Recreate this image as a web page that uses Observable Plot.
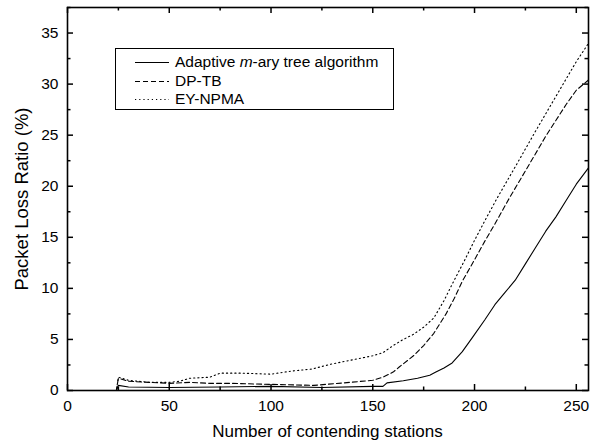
<!DOCTYPE html>
<html><head><meta charset="utf-8">
<script src="https://cdn.jsdelivr.net/npm/d3@7"></script>
<script src="https://cdn.jsdelivr.net/npm/@observablehq/plot@0.6"></script>
<style>
body{margin:0;background:#fff}
#chart{position:relative;width:600px;height:445px;font-family:"Liberation Sans",Arial,sans-serif;color:#000}
.title{position:absolute;font-size:17px;white-space:nowrap}
#legend{position:absolute;left:115px;top:48px;width:277px;height:60px;border:1px solid #000;background:#fff;font-size:15.5px}
#legend .row{position:absolute;left:0;height:18px;line-height:18px}
#legend svg{position:absolute;left:19px;top:0}
#legend span{position:absolute;left:59px;white-space:nowrap}
</style>
</head><body><div id="chart"></div>
<script>
// ---- data ----
const seriesNames = ["Adaptive m-ary tree algorithm", "DP-TB", "EY-NPMA"];
const adaptiveX = [0, 24, 25, 30, 50, 75, 100, 125, 150, 155, 157, 165, 172, 178, 181, 185, 189, 194, 199, 205, 210, 215, 220, 225, 230, 235, 240, 245, 250, 256];
const adaptiveY = [0, 0, 0.5, 0.35, 0.3, 0.35, 0.4, 0.3, 0.4, 0.4, 0.75, 0.95, 1.2, 1.5, 1.8, 2.2, 2.7, 3.8, 5.2, 6.9, 8.4, 9.6, 10.8, 12.4, 14.0, 15.6, 17.0, 18.6, 20.2, 21.8];
const dptbX = [0, 24, 25, 30, 40, 50, 60, 70, 80, 100, 121, 139, 150, 155, 160, 163, 170, 175, 180, 186, 190, 194, 200, 205, 210, 217, 225, 235, 245, 250, 256];
const dptbY = [0, 0, 1.2, 0.9, 0.8, 0.7, 0.8, 0.7, 0.7, 0.6, 0.5, 0.8, 1.0, 1.3, 1.8, 2.3, 3.4, 4.4, 5.6, 7.5, 9.0, 10.7, 12.8, 14.6, 16.3, 18.8, 21.5, 24.9, 28.0, 29.4, 30.4];
const eyX = [0, 24, 25, 30, 40, 50, 55, 60, 70, 75, 85, 100, 110, 120, 130, 140, 150, 155, 160, 165, 170, 175, 180, 185, 189, 195, 200, 205, 211, 220, 230, 240, 250, 256];
const eyY = [0, 0, 1.3, 1.0, 0.8, 0.8, 0.9, 1.2, 1.3, 1.7, 1.7, 1.6, 1.9, 2.1, 2.6, 3.0, 3.4, 3.7, 4.4, 5.0, 5.5, 6.2, 7.1, 8.8, 10.4, 12.7, 14.7, 16.6, 18.8, 21.9, 25.4, 28.8, 32.2, 34.0];
const xMajor = [0, 50, 100, 150, 200, 250];
const xMinor = [25, 75, 125, 175, 225];
const yMajor = [0, 5, 10, 15, 20, 25, 30, 35];
const yMinor = [2.5, 7.5, 12.5, 17.5, 22.5, 27.5, 32.5, 37.5];
const xDomain = [0, 256];
const yDomain = [0, 37.5];

// ---- build ----
const W = 600, H = 445, mL = 67, mR = 12, mT = 7, mB = 55;
const PW = W - mL - mR, PH = H - mT - mB;
const toRows = (xs, ys) => xs.map((x, i) => ({x, y: ys[i]}));
const styles = [
  {strokeDasharray: null},
  {strokeDasharray: "5,3"},
  {strokeDasharray: "1.2,3"}
];
const data = [toRows(adaptiveX, adaptiveY), toRows(dptbX, dptbY), toRows(eyX, eyY)];

const chart = Plot.plot({
  width: W, height: H,
  marginLeft: mL, marginRight: mR, marginTop: mT, marginBottom: mB,
  style: {fontFamily: '"Liberation Sans", Arial, sans-serif', color: "#000", background: "#fff"},
  x: {domain: xDomain},
  y: {domain: yDomain},
  marks: [
    ...data.map((d, i) => Plot.line(d, {x: "x", y: "y", stroke: "#000", strokeWidth: 1.1, ...(styles[i].strokeDasharray ? {strokeDasharray: styles[i].strokeDasharray} : {})})),
    // inward ticks
    Plot.ruleX(xMajor, {x: d => d, insetTop: PH - 6, stroke: "#000", strokeWidth: 1.5}),
    Plot.ruleX(xMajor, {x: d => d, insetBottom: PH - 6, stroke: "#000", strokeWidth: 1.5}),
    Plot.ruleX(xMinor, {x: d => d, insetTop: PH - 3.5, stroke: "#000", strokeWidth: 1.5}),
    Plot.ruleX(xMinor, {x: d => d, insetBottom: PH - 3.5, stroke: "#000", strokeWidth: 1.5}),
    Plot.ruleY(yMajor, {y: d => d, insetRight: PW - 6, stroke: "#000", strokeWidth: 1.5}),
    Plot.ruleY(yMajor, {y: d => d, insetLeft: PW - 6, stroke: "#000", strokeWidth: 1.5}),
    Plot.ruleY(yMinor, {y: d => d, insetRight: PW - 3.5, stroke: "#000", strokeWidth: 1.5}),
    Plot.ruleY(yMinor, {y: d => d, insetLeft: PW - 3.5, stroke: "#000", strokeWidth: 1.5}),
    Plot.frame({stroke: "#000", strokeWidth: 1.6}),
    Plot.axisX({anchor: "bottom", ticks: xMajor, tickSize: 0, tickPadding: 9, fontSize: 15.5, label: null}),
    Plot.axisY({anchor: "left", ticks: yMajor, tickSize: 0, tickPadding: 9, fontSize: 15.5, label: null})
  ]
});
const root = document.getElementById("chart");
root.appendChild(chart);

// axis titles
const xt = document.createElement("div");
xt.className = "title";
xt.textContent = "Number of contending stations";
xt.style.left = (mL + PW / 2) + "px";
xt.style.top = "422px";
xt.style.transform = "translateX(-50%)";
root.appendChild(xt);
const yt = document.createElement("div");
yt.className = "title";
yt.textContent = "Packet Loss Ratio (%)";
yt.style.fontSize = "18.5px";
yt.style.left = "22px";
yt.style.top = (mT + PH / 2) + "px";
yt.style.transform = "translate(-50%,-50%) rotate(-90deg)";
root.appendChild(yt);

// legend
const lg = document.createElement("div");
lg.id = "legend";
const labelsHTML = ["Adaptive <i>m</i>-ary tree algorithm", "DP-TB", "EY-NPMA"];
seriesNames.forEach((name, i) => {
  const row = document.createElement("div");
  row.className = "row";
  row.style.top = (4 + i * 18.5) + "px";
  row.style.width = "100%";
  const dash = styles[i].strokeDasharray ? `stroke-dasharray="${styles[i].strokeDasharray}"` : "";
  row.innerHTML = `<svg width="36" height="18"><line x1="0" x2="34" y1="9.5" y2="9.5" stroke="#000" stroke-width="1.1" ${dash}/></svg><span title="${name}">${labelsHTML[i]}</span>`;
  lg.appendChild(row);
});
root.appendChild(lg);
</script>
</body></html>
